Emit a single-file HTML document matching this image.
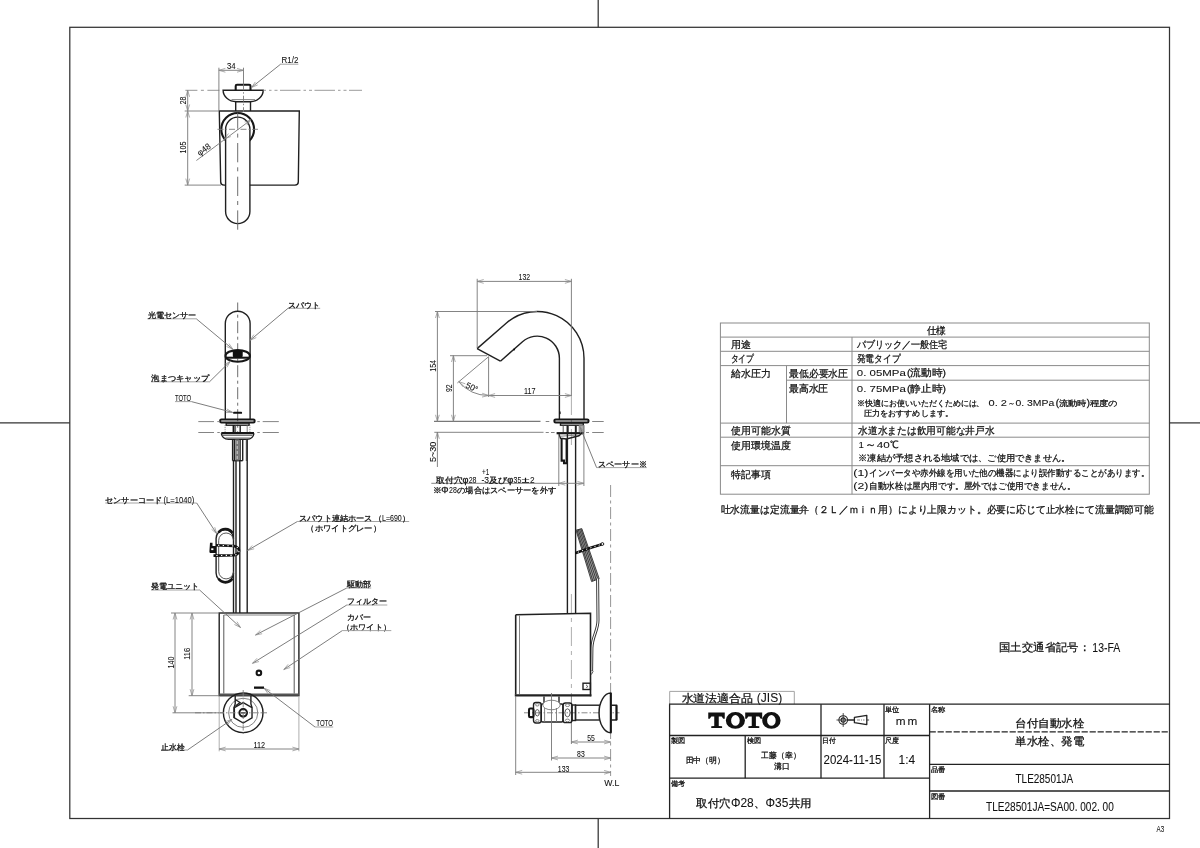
<!DOCTYPE html>
<html lang="ja">
<head>
<meta charset="utf-8">
<title>TLE28501JA</title>
<style>
html,body{margin:0;padding:0;background:#fff;}
body{width:1200px;height:848px;overflow:hidden;font-family:"Liberation Sans",sans-serif;}
svg{display:block;position:absolute;left:0;top:0;will-change:transform;}
text{font-family:"Liberation Sans",sans-serif;fill:#111;stroke:#111;stroke-width:0.28px;}
.tx{fill:#111;}
.la{fill:#111;stroke-width:0.08px;}
.tl{fill:#111;stroke-width:0.1px;}
.tb{fill:#111;stroke-width:0.26px;}
line,path,rect,circle,ellipse,polyline{fill:none;stroke-linecap:butt;stroke-linejoin:miter;}
.f{stroke:#333;stroke-width:1.25;}
.g{stroke:#8a8a8a;stroke-width:1;}
.g2{stroke:#999;stroke-width:0.9;}
.h{stroke:#222;stroke-width:1.3;}
.t3{stroke:#222;stroke-width:1.1;}
.o{stroke:#202020;stroke-width:1.4;}
.o2{stroke:#161616;stroke-width:2.05;}
.m{stroke:#444;stroke-width:0.9;}
.t{stroke:#767676;stroke-width:0.9;}
.t2{stroke:#333;stroke-width:0.9;}
.u{stroke:#9a9a9a;stroke-width:0.9;}
.e{stroke:#a6a6a6;stroke-width:0.9;}
.d{stroke:#6e6e6e;stroke-width:0.9;}
.a{stroke:#8a8a8a;stroke-width:0.7;}
.c{stroke:#8a8a8a;stroke-width:0.9;stroke-dasharray:12 3.5 3 3.5;}
.c2{stroke:#7a7a7a;stroke-width:0.9;stroke-dasharray:6 2 1.5 2;}
.c3{stroke:#7a7a7a;stroke-width:0.9;stroke-dasharray:15.5 3.3 2.5 3.3;}
.c4{stroke:#999;stroke-width:0.8;stroke-dasharray:19 5 4 5;}
.t2x{stroke:#7a7a7a;stroke-width:0.9;}
.c5{stroke:#7a7a7a;stroke-width:0.9;stroke-dasharray:3 3 9 3;}
.k{fill:#111;stroke:none;}
.w{fill:#fff;stroke:none;}
</style>
</head>
<body>
<svg width="1200" height="848" viewBox="0 0 1200 848">
<g id="frame">
<rect class="f" x="69.8" y="27.3" width="1099.7" height="791.2"/>
<line class="f" x1="598.2" y1="0" x2="598.2" y2="27.3"/>
<line class="f" x1="598.2" y1="818.5" x2="598.2" y2="848"/>
<line class="f" x1="0" y1="422.9" x2="69.8" y2="422.9"/>
<line class="f" x1="1169.5" y1="422.9" x2="1200" y2="422.9"/>
<text class="la" x="1156.6" y="831.7" font-size="8.9" textLength="7.6" lengthAdjust="spacingAndGlyphs">A3</text>
</g>
<g id="table">
<rect class="g" x="720.4" y="323" width="428.9" height="171.2"/>
<line class="g" x1="720.4" y1="337.1" x2="1149.3" y2="337.1"/>
<line class="g" x1="720.4" y1="351.3" x2="1149.3" y2="351.3"/>
<line class="g" x1="720.4" y1="365.6" x2="1149.3" y2="365.6"/>
<line class="g" x1="786.5" y1="380.2" x2="1149.3" y2="380.2"/>
<line class="g" x1="720.4" y1="423.1" x2="1149.3" y2="423.1"/>
<line class="g" x1="720.4" y1="437.2" x2="1149.3" y2="437.2"/>
<line class="g" x1="720.4" y1="465.7" x2="1149.3" y2="465.7"/>
<line class="g" x1="852" y1="337.1" x2="852" y2="494.2"/>
<line class="g" x1="786.5" y1="365.6" x2="786.5" y2="423.1"/>
<text class="tb" x="926.5" y="333.76" font-size="9.6" textLength="19.5" lengthAdjust="spacingAndGlyphs">仕様</text>
<text class="tb" x="730.5" y="347.96" font-size="9.6" textLength="20" lengthAdjust="spacingAndGlyphs">用途</text>
<text class="tb" x="856.8" y="347.96" font-size="9.6" textLength="90.5" lengthAdjust="spacingAndGlyphs">パブリック／一般住宅</text>
<text class="tb" x="730.5" y="362.06" font-size="9.6" textLength="23.5" lengthAdjust="spacingAndGlyphs">タイプ</text>
<text class="tb" x="856.8" y="362.26" font-size="9.6" textLength="43.5" lengthAdjust="spacingAndGlyphs">発電タイプ</text>
<text class="tb" x="730.5" y="376.76" font-size="9.6" textLength="40" lengthAdjust="spacingAndGlyphs">給水圧力</text>
<text class="tb" x="789" y="376.66" font-size="9.6" textLength="59" lengthAdjust="spacingAndGlyphs">最低必要水圧</text>
<text class="la" x="856.8" y="376.36" font-size="9.6" textLength="49" lengthAdjust="spacingAndGlyphs">0. 05MPa</text>
<text class="tb" x="907" y="376.36" font-size="9.6" textLength="38.8" lengthAdjust="spacingAndGlyphs">(流動時)</text>
<text class="tb" x="789" y="391.86" font-size="9.6" textLength="39.3" lengthAdjust="spacingAndGlyphs">最高水圧</text>
<text class="la" x="856.8" y="391.96" font-size="9.6" textLength="49" lengthAdjust="spacingAndGlyphs">0. 75MPa</text>
<text class="tb" x="907" y="391.96" font-size="9.6" textLength="38.8" lengthAdjust="spacingAndGlyphs">(静止時)</text>
<text class="tb" x="857.4" y="405.55" font-size="8.2" textLength="127" lengthAdjust="spacingAndGlyphs">※快適にお使いいただくためには、</text>
<text class="la" x="988.6" y="405.55" font-size="8.2" textLength="18.4" lengthAdjust="spacingAndGlyphs">0. 2</text>
<text class="tb" x="1008" y="405.55" font-size="8.2" textLength="7" lengthAdjust="spacingAndGlyphs">～</text>
<text class="la" x="1015.4" y="405.55" font-size="8.2" textLength="38.8" lengthAdjust="spacingAndGlyphs">0. 3MPa</text>
<text class="tb" x="1055.7" y="405.55" font-size="8.2" textLength="62" lengthAdjust="spacingAndGlyphs">(流動時)程度の</text>
<text class="tb" x="864.2" y="415.95" font-size="8.2" textLength="88.5" lengthAdjust="spacingAndGlyphs">圧力をおすすめします。</text>
<text class="tb" x="731.2" y="434.06" font-size="9.6" textLength="59.4" lengthAdjust="spacingAndGlyphs">使用可能水質</text>
<text class="tb" x="858.2" y="433.96" font-size="9.6" textLength="136.5" lengthAdjust="spacingAndGlyphs">水道水または飲用可能な井戸水</text>
<text class="tb" x="731.2" y="448.66" font-size="9.6" textLength="59.4" lengthAdjust="spacingAndGlyphs">使用環境温度</text>
<text class="la" x="858.4" y="448.36" font-size="9.6" textLength="5.4" lengthAdjust="spacingAndGlyphs">1</text>
<text class="tb" x="864.6" y="448.36" font-size="9.6" textLength="11.4" lengthAdjust="spacingAndGlyphs">～</text>
<text class="la" x="876.8" y="448.36" font-size="9.6" textLength="13" lengthAdjust="spacingAndGlyphs">40</text>
<text class="tb" x="890.2" y="448.36" font-size="9.6" textLength="8.4" lengthAdjust="spacingAndGlyphs">℃</text>
<text class="tb" x="858.2" y="460.77" font-size="8.8" textLength="212.2" lengthAdjust="spacingAndGlyphs">※凍結が予想される地域では、ご使用できません。</text>
<text class="tb" x="731.2" y="478.06" font-size="9.6" textLength="39.3" lengthAdjust="spacingAndGlyphs">特記事項</text>
<text class="la" x="853.3" y="476.4" font-size="8.6" textLength="15" lengthAdjust="spacingAndGlyphs">(1)</text>
<text class="tb" x="869.2" y="476.4" font-size="8.6" textLength="280" lengthAdjust="spacingAndGlyphs">インバータや赤外線を用いた他の機器により誤作動することがあります。</text>
<text class="la" x="853.3" y="489.1" font-size="8.6" textLength="15" lengthAdjust="spacingAndGlyphs">(2)</text>
<text class="tb" x="869.2" y="489.1" font-size="8.6" textLength="206.2" lengthAdjust="spacingAndGlyphs">自動水栓は屋内用です。屋外ではご使用できません。</text>
<text class="tb" x="720.6" y="512.8" font-size="10" textLength="433.4" lengthAdjust="spacingAndGlyphs">吐水流量は定流量弁（２Ｌ／ｍｉｎ用）により上限カット。必要に応じて止水栓にて流量調節可能</text>
<text class="tb" x="999" y="651.19" font-size="10.8" textLength="91" lengthAdjust="spacingAndGlyphs">国土交通省記号：</text>
<text class="la" x="1092.3" y="651.81" font-size="12.8" textLength="28" lengthAdjust="spacingAndGlyphs">13-FA</text>
</g>
<g id="title">
<path class="g2" d="M669.7 704 L669.7 691.4 L794.3 691.4 L794.3 704"/>
<text class="tx" x="681.5" y="701.58" font-size="10.5" textLength="71.8" lengthAdjust="spacingAndGlyphs">水道法適合品</text>
<text class="la" x="756.8" y="702.46" font-size="12.4" textLength="25.4" lengthAdjust="spacingAndGlyphs">(JIS)</text>
<line class="h" x1="669" y1="704.2" x2="1169.5" y2="704.2"/>
<line class="h" x1="669.6" y1="704.2" x2="669.6" y2="818.5"/>
<line class="h" x1="669.6" y1="735.5" x2="929.6" y2="735.5"/>
<line class="h" x1="669.6" y1="778.2" x2="929.6" y2="778.2"/>
<line class="h" x1="821" y1="704.2" x2="821" y2="778.2"/>
<line class="h" x1="884" y1="704.2" x2="884" y2="778.2"/>
<line class="h" x1="929.6" y1="704.2" x2="929.6" y2="818.5"/>
<line class="h" x1="745.2" y1="735.5" x2="745.2" y2="778.2"/>
<line class="h" x1="929.6" y1="731.8" x2="1169.5" y2="731.8" stroke-dasharray="6.2 1.8"/>
<line class="h" x1="929.6" y1="764.4" x2="1169.5" y2="764.4"/>
<line class="h" x1="929.6" y1="791" x2="1169.5" y2="791"/>
<g><title>TOTO</title><path class="k" fill-rule="evenodd" d="M708.25 712.6 H724.75 V718.8 H723.25 L721.65 716.4 H718.75 V725.9 L722.1 726.2 V728.1 H711.25 V726.2 L714.25 725.9 V716.4 H711.35 L709.75 718.8 H708.25 Z M725.85 720.4 a9.55 8.45 0 1 0 19.1 0 a9.55 8.45 0 1 0 -19.1 0 Z M731.1 720.4 a4.3 5.3 0 1 0 8.6 0 a4.3 5.3 0 1 0 -8.6 0 Z M745.2 712.6 H762.2 V718.8 H760.7 L759.1 716.4 H755.9 V725.9 L759.25 726.2 V728.1 H748.4 V726.2 L751.75 725.9 V716.4 H748.3 L746.7 718.8 H745.2 Z M762.2 720.4 a9.2 8.45 0 1 0 18.4 0 a9.2 8.45 0 1 0 -18.4 0 Z M767.1 720.4 a4.3 5.3 0 1 0 8.6 0 a4.3 5.3 0 1 0 -8.6 0 Z"/></g>
<circle class="t3" cx="843.2" cy="720" r="4.3"/>
<circle class="t3" cx="843.2" cy="720" r="2.1"/>
<line class="t2" x1="836.5" y1="720" x2="869.1" y2="720"/>
<line class="t2" x1="843.2" y1="713.1" x2="843.2" y2="726.9"/>
<line class="t3" x1="847.5" y1="720" x2="854.4" y2="720"/>
<path class="t3" d="M854.4 717.3 L866.8 715.4 L866.8 724.6 L854.4 722.7 Z" style="stroke-width:1.3;stroke-linejoin:round;fill:#fff"/>
<line class="t" x1="857" y1="720" x2="864.5" y2="720" stroke-dasharray="3 1 1 1"/>
<text class="tx" x="885" y="712.19" font-size="7.2" textLength="14.4" lengthAdjust="spacingAndGlyphs">単位</text>
<text class="la" x="895.8" y="724.57" font-size="10.2" textLength="9.8" lengthAdjust="spacingAndGlyphs">m</text>
<text class="la" x="907.6" y="724.57" font-size="10.2" textLength="9.8" lengthAdjust="spacingAndGlyphs">m</text>
<text class="tx" x="671.3" y="743.39" font-size="7.2" textLength="14.3" lengthAdjust="spacingAndGlyphs">製図</text>
<text class="tx" x="746.8" y="743.39" font-size="7.2" textLength="14.3" lengthAdjust="spacingAndGlyphs">検図</text>
<text class="tx" x="822.3" y="743.39" font-size="7.2" textLength="13.6" lengthAdjust="spacingAndGlyphs">日付</text>
<text class="tx" x="885.3" y="743.39" font-size="7.2" textLength="14" lengthAdjust="spacingAndGlyphs">尺度</text>
<text class="tx" x="685.7" y="762.74" font-size="7.9" textLength="39" lengthAdjust="spacingAndGlyphs">田中（明）</text>
<text class="tx" x="761.4" y="757.74" font-size="7.9" textLength="39" lengthAdjust="spacingAndGlyphs">工藤（幸）</text>
<text class="tx" x="773.8" y="768.84" font-size="7.9" textLength="15.6" lengthAdjust="spacingAndGlyphs">溝口</text>
<text class="la" x="823.6" y="763.96" font-size="12.4" textLength="57.8" lengthAdjust="spacingAndGlyphs">2024-11-15</text>
<text class="la" x="898.6" y="763.96" font-size="12.4" textLength="16.6" lengthAdjust="spacingAndGlyphs">1:4</text>
<text class="tx" x="671.2" y="786.39" font-size="7.2" textLength="14.1" lengthAdjust="spacingAndGlyphs">備考</text>
<text class="tx" x="696.2" y="806.89" font-size="10.8" textLength="34.4" lengthAdjust="spacingAndGlyphs">取付穴</text>
<text class="la" x="730.9" y="807.46" font-size="12.4" textLength="22.8" lengthAdjust="spacingAndGlyphs">Φ28</text>
<text class="tx" x="754" y="806.89" font-size="10.8" textLength="11.4" lengthAdjust="spacingAndGlyphs">、</text>
<text class="la" x="765.6" y="807.46" font-size="12.4" textLength="22.8" lengthAdjust="spacingAndGlyphs">Φ35</text>
<text class="tx" x="788.6" y="806.89" font-size="10.8" textLength="22.9" lengthAdjust="spacingAndGlyphs">共用</text>
<text class="tx" x="930.7" y="712.09" font-size="7.2" textLength="14.6" lengthAdjust="spacingAndGlyphs">名称</text>
<text class="tx" x="930.7" y="772.29" font-size="7.2" textLength="14.6" lengthAdjust="spacingAndGlyphs">品番</text>
<text class="tx" x="930.7" y="799.19" font-size="7.2" textLength="14.6" lengthAdjust="spacingAndGlyphs">図番</text>
<text class="tx" x="1015.4" y="727.32" font-size="10.6" textLength="69" lengthAdjust="spacingAndGlyphs">台付自動水栓</text>
<text class="tx" x="1015.4" y="745.32" font-size="10.6" textLength="69" lengthAdjust="spacingAndGlyphs">単水栓、発電</text>
<text class="la" x="1015.5" y="783.36" font-size="12.4" textLength="57.6" lengthAdjust="spacingAndGlyphs">TLE28501JA</text>
<text class="la" x="986" y="810.76" font-size="12.4" textLength="127.8" lengthAdjust="spacingAndGlyphs">TLE28501JA=SA00. 002. 00</text>
</g>
<g id="top">
<path class="o" d="M219.3 111 L220.7 182 Q220.8 185.1 224 185.1 L295 185.1 Q298.2 185.1 298.3 182 L299.3 111 Z"/>
<circle class="o2" cx="237.7" cy="129.3" r="16.4"/>
<path class="o" d="M225.6 129.3 A12.15 12.15 0 0 1 249.9 129.3 L249.9 211.5 A12.15 12.15 0 0 1 225.6 211.5 Z" style="fill:#fff"/>
<line class="o" x1="235.7" y1="101.7" x2="235.7" y2="111"/>
<line class="o" x1="250.5" y1="101.7" x2="250.5" y2="111"/>
<path class="o" d="M223.1 90.3 L263.2 90.3 C263.2 96.5 257.5 101.7 250 101.7 L236.3 101.7 C228.8 101.7 223.1 96.5 223.1 90.3 Z"/>
<line class="t" x1="231.5" y1="99.6" x2="255" y2="99.6"/>
<path class="o2" d="M235.7 90.3 L235.7 86 Q235.7 84.8 237 84.8 L249.2 84.8 Q250.5 84.8 250.5 86 L250.5 90.3"/>
<line class="c" x1="185.4" y1="90.3" x2="223" y2="90.3"/>
<line class="" x1="263.5" y1="90.3" x2="362" y2="90.3" style="stroke:#909090;stroke-width:0.9;stroke-dasharray:20.5 3 2.5 3 3 2.5;stroke-dashoffset:18"/>
<line class="c2" x1="243.5" y1="84.2" x2="243.5" y2="112"/>
<line class="" x1="237.7" y1="112.5" x2="237.7" y2="232" style="stroke:#666;stroke-width:0.95;stroke-dasharray:19.3 5 4 5.4;stroke-dashoffset:3.2"/>
<line class="c2" x1="217.5" y1="129.3" x2="258.7" y2="129.3"/>
<line class="t" x1="218.9" y1="67.7" x2="218.9" y2="110.5"/>
<line class="t" x1="243.5" y1="67.7" x2="243.5" y2="84.2"/>
<line class="t" x1="218.9" y1="70.3" x2="243.5" y2="70.3"/>
<path class="a" d="M225.4 68.4 L218.9 70.3 L225.4 72.2"/>
<path class="a" d="M237 72.2 L243.5 70.3 L237 68.4"/>
<text class="la" x="226.9" y="69.1" font-size="8.6" textLength="8.6" lengthAdjust="spacingAndGlyphs">34</text>
<path class="u" d="M298.4 64.2 L280.6 64.2"/>
<path class="d" d="M280.6 64.2 L251.4 87.5"/>
<path class="a" d="M255.3 81.96 L251.4 87.5 L257.67 84.93"/>
<text class="la" x="281.6" y="63" font-size="8.6" textLength="16.8" lengthAdjust="spacingAndGlyphs">R1/2</text>
<line class="t" x1="184.7" y1="111" x2="219" y2="111"/>
<line class="t" x1="184.7" y1="185.1" x2="221" y2="185.1"/>
<line class="t" x1="187.7" y1="90.3" x2="187.7" y2="111"/>
<path class="a" d="M189.6 96.8 L187.7 90.3 L185.8 96.8"/>
<path class="a" d="M185.8 104.5 L187.7 111 L189.6 104.5"/>
<line class="t" x1="187.7" y1="111" x2="187.7" y2="185.1"/>
<path class="a" d="M189.6 117.5 L187.7 111 L185.8 117.5"/>
<path class="a" d="M185.8 178.6 L187.7 185.1 L189.6 178.6"/>
<text class="la" x="179.4" y="103.5" font-size="8.6" textLength="7.8" lengthAdjust="spacingAndGlyphs" transform="rotate(-90 183.3 100.4)">28</text>
<text class="la" x="177.3" y="150.6" font-size="8.6" textLength="11.8" lengthAdjust="spacingAndGlyphs" transform="rotate(-90 183.2 147.5)">105</text>
<line class="t" x1="196.4" y1="160.5" x2="251.05" y2="119.78"/>
<path class="a" d="M228.54 133.5 L224.35 138.82 L230.74 136.6"/>
<path class="a" d="M246.86 125.1 L251.05 119.78 L244.66 122"/>
<text class="la" x="196.55" y="152.5" font-size="8.6" textLength="14.5" lengthAdjust="spacingAndGlyphs" transform="rotate(-36 203.8 149.4)">φ48</text>
</g>
<g id="front">
<line class="" x1="237.7" y1="302.5" x2="237.7" y2="432" style="stroke:#666;stroke-width:0.95;stroke-dasharray:12 3.5 3 3.5;stroke-dashoffset:3.3"/>
<path class="o" d="M225.3 419.4 L225.3 323.6 A12.4 12.4 0 0 1 250.1 323.6 L250.1 419.4"/>
<ellipse class="o2" cx="237.7" cy="355.9" rx="12.2" ry="5.8"/>
<path class="o2" d="M226.5 357.7 L248.9 357.7"/>
<rect class="k" x="232.8" y="350.2" width="9.9" height="7.6" rx="2"/>
<rect class="k" x="233.1" y="411.8" width="9" height="2" rx="0.9"/>
<rect class="o2" x="220.2" y="419.4" width="34.4" height="3.1" rx="1.2"/>
<rect class="o" x="226.2" y="423.1" width="22.9" height="2.1"/>
<line class="t" x1="225.1" y1="425.2" x2="225.1" y2="432.4" stroke-dasharray="1 1"/>
<line class="t" x1="249.9" y1="425.2" x2="249.9" y2="432.4" stroke-dasharray="1 1"/>
<line class="o2" x1="233.6" y1="425.2" x2="233.6" y2="433"/>
<line class="o" x1="240.2" y1="425.2" x2="240.2" y2="433"/>
<line class="m" x1="235.6" y1="425.2" x2="235.6" y2="433"/>
<line class="t" x1="247.2" y1="425.2" x2="247.2" y2="433"/>
<path class="o2" d="M221.3 433.1 L254 433.1" style="stroke-width:2.2"/>
<path class="o" d="M221.3 433.3 C222 437 225 439.2 228.5 439.2 L247 439.2 C250.5 439.2 253.3 437 254 433.3"/>
<line class="m" x1="223" y1="435.3" x2="252.3" y2="435.3"/>
<line class="t" x1="225.5" y1="437.9" x2="250" y2="437.9"/>
<line class="o" x1="232.6" y1="439.2" x2="232.6" y2="460.7"/>
<line class="o" x1="242.7" y1="439.2" x2="242.7" y2="460.7"/>
<line class="o" x1="232.6" y1="460.7" x2="242.7" y2="460.7"/>
<line class="o" x1="234.3" y1="439.2" x2="234.3" y2="460.7"/>
<line class="o" x1="240.1" y1="439.2" x2="240.1" y2="460.7"/>
<rect style="fill:#777;stroke:none" x="235.2" y="439.5" width="4" height="21"/>
<line class="" x1="237.2" y1="441" x2="237.2" y2="460" style="stroke:#ddd;stroke-width:0.9;stroke-dasharray:3 2"/>
<line class="m" x1="246.3" y1="439.2" x2="246.3" y2="461"/>
<line class="o" x1="247.2" y1="439.2" x2="247.2" y2="613"/>
<line class="o" x1="239.8" y1="460.7" x2="239.8" y2="613"/>
<line class="o" x1="233.5" y1="460.7" x2="233.5" y2="613"/>
<line class="o" x1="236" y1="460.7" x2="236" y2="613"/>
<path class="o" d="M233.5 538.4 A8.7 8.7 0 0 0 216.1 538.4 L216.1 573 A8.7 8.7 0 0 0 233.5 573"/>
<path class="m" d="M233.5 540.4 A7.4 7.4 0 0 0 218.7 540.4 L218.7 571.5 A7.4 7.4 0 0 0 233.5 571.5"/>
<path class="o2" d="M232.5 533 A8.5 8.5 0 0 0 218.5 532.5" style="stroke-width:2.6"/>
<path class="o2" d="M232.5 578.6 A8.5 8.5 0 0 1 218.5 578.8" style="stroke-width:2.6"/>
<path class="" d="M216 545.2 L234 546 Q239.3 547.5 239 551 Q238.5 554.5 234 555.3 L213.5 555.6" style="stroke:#111;stroke-width:2.6"/>
<path class="" d="M216 545.2 L234 546 Q239.3 547.5 239 551 Q238.5 554.5 234 555.3 L213.5 555.6" style="stroke:#fff;stroke-width:1.1;stroke-dasharray:1.3 3.4;stroke-dashoffset:-2"/>
<path class="k" d="M210 542.8 L212.5 542.8 L212.5 546 L216 546 L216 553 L210.5 553 Q209.4 553 209.4 551.5 Z"/>
<rect class="w" x="211.2" y="548.3" width="2.2" height="1.8"/>
<rect class="o" x="219.2" y="613" width="79.7" height="82.7"/>
<line class="m" x1="223.8" y1="615" x2="223.8" y2="693.5"/>
<line class="m" x1="294.2" y1="615" x2="294.2" y2="693.5"/>
<line class="t" x1="223.8" y1="615" x2="294.2" y2="615"/>
<path class="" d="M219.2 694.6 L298.9 694.6" style="stroke:#555;stroke-width:2.4"/>
<circle class="o2" cx="258.9" cy="672.9" r="2.3"/>
<rect class="k" x="254" y="686.5" width="10" height="2.3"/>
<circle class="o" cx="243.2" cy="712.8" r="19.8"/>
<circle class="t" cx="243.2" cy="712.8" r="14.6"/>
<path class="o" d="M243.2 702.6 L252.03 707.7 L252.03 717.9 L243.2 723 L234.37 717.9 L234.37 707.7 Z"/>
<circle class="o2" cx="243.2" cy="712.8" r="3.8"/>
<line class="o" x1="240.8" y1="712.8" x2="245.6" y2="712.8"/>
<path class="o" d="M235.2 695.7 L235.2 704 L234 707.5 L234 718"/>
<path class="o" d="M250.9 695.7 L250.9 704 L252 707.5"/>
<path class="o" d="M235.2 699.5 L240 702.5 L235.5 706"/>
<line class="c2" x1="195" y1="712.8" x2="267" y2="712.8"/>
<line class="c2" x1="243.2" y1="690" x2="243.2" y2="736"/>
<line class="t" x1="171" y1="613" x2="219.2" y2="613"/>
<line class="t" x1="188.7" y1="695.7" x2="219.2" y2="695.7"/>
<line class="t" x1="172.5" y1="712.8" x2="224" y2="712.8"/>
<line class="t" x1="175" y1="613" x2="175" y2="712.8"/>
<path class="a" d="M176.9 619.5 L175 613 L173.1 619.5"/>
<path class="a" d="M173.1 706.3 L175 712.8 L176.9 706.3"/>
<line class="t" x1="192" y1="613" x2="192" y2="695.7"/>
<path class="a" d="M193.9 619.5 L192 613 L190.1 619.5"/>
<path class="a" d="M190.1 689.2 L192 695.7 L193.9 689.2"/>
<text class="la" x="165" y="665.6" font-size="8.6" textLength="12" lengthAdjust="spacingAndGlyphs" transform="rotate(-90 171 662.5)">140</text>
<text class="la" x="181.2" y="656.9" font-size="8.6" textLength="12" lengthAdjust="spacingAndGlyphs" transform="rotate(-90 187.2 653.8)">116</text>
<line class="e" x1="219.2" y1="696.5" x2="219.2" y2="751.3"/>
<line class="e" x1="298.9" y1="696.5" x2="298.9" y2="751.3"/>
<line class="t" x1="219.2" y1="749" x2="298.9" y2="749"/>
<path class="a" d="M225.7 747.1 L219.2 749 L225.7 750.9"/>
<path class="a" d="M292.4 750.9 L298.9 749 L292.4 747.1"/>
<text class="la" x="253.4" y="748.4" font-size="8.6" textLength="11.6" lengthAdjust="spacingAndGlyphs">112</text>
<path class="u" d="M147.3 318.8 L196.3 318.8"/>
<path class="d" d="M196.3 318.8 L232.8 349.2"/>
<path class="a" d="M226.59 346.5 L232.8 349.2 L229.02 343.58"/>
<text class="tx" x="147.5" y="318.29" font-size="8.3" textLength="48.6" lengthAdjust="spacingAndGlyphs">光電センサー</text>
<path class="u" d="M320.2 308.3 L288 308.3"/>
<path class="d" d="M288 308.3 L250.1 340.3"/>
<path class="a" d="M253.84 334.65 L250.1 340.3 L256.29 337.56"/>
<text class="tx" x="288.2" y="307.79" font-size="8.3" textLength="32" lengthAdjust="spacingAndGlyphs">スパウト</text>
<path class="u" d="M151 381.8 L209.5 381.8"/>
<path class="d" d="M209.5 381.8 L230.2 361.4"/>
<path class="a" d="M226.9 367.32 L230.2 361.4 L224.24 364.61"/>
<text class="tx" x="151.3" y="381.29" font-size="8.3" textLength="58" lengthAdjust="spacingAndGlyphs">泡まつキャップ</text>
<path class="u" d="M175 401.6 L191.4 401.6"/>
<path class="d" d="M191.4 401.6 L232.6 412.4"/>
<path class="a" d="M225.83 412.59 L232.6 412.4 L226.79 408.91"/>
<text class="la" x="175" y="400.77" font-size="8.8" textLength="16.2" lengthAdjust="spacingAndGlyphs">TOTO</text>
<path class="u" d="M105.3 503 L196.7 503"/>
<path class="d" d="M196.7 503 L216.7 533.7"/>
<path class="a" d="M211.56 529.29 L216.7 533.7 L214.74 527.22"/>
<text class="tx" x="105.2" y="502.59" font-size="8.3" textLength="57" lengthAdjust="spacingAndGlyphs">センサーコード</text>
<text class="la" x="163.5" y="502.57" font-size="8.8" textLength="30.7" lengthAdjust="spacingAndGlyphs">(L=1040)</text>
<path class="u" d="M409.2 521.5 L297.4 521.5"/>
<path class="d" d="M297.4 521.5 L247.6 550.4"/>
<path class="a" d="M252.27 545.49 L247.6 550.4 L254.18 548.78"/>
<text class="tx" x="299" y="520.99" font-size="8.3" textLength="73.6" lengthAdjust="spacingAndGlyphs">スパウト連結ホース</text>
<text class="tx" x="373.6" y="520.99" font-size="8.3" textLength="8.1" lengthAdjust="spacingAndGlyphs">（</text>
<text class="la" x="382" y="520.77" font-size="8.8" textLength="19.8" lengthAdjust="spacingAndGlyphs">L=690</text>
<text class="tx" x="401.6" y="520.99" font-size="8.3" textLength="8.1" lengthAdjust="spacingAndGlyphs">）</text>
<text class="tx" x="306.4" y="531.29" font-size="8.3" textLength="74.6" lengthAdjust="spacingAndGlyphs">（ホワイトグレー）</text>
<path class="u" d="M151 590 L199.6 590"/>
<path class="d" d="M199.6 590 L240.5 627.5"/>
<path class="a" d="M234.42 624.51 L240.5 627.5 L236.99 621.71"/>
<text class="tx" x="151.3" y="589.39" font-size="8.3" textLength="48.2" lengthAdjust="spacingAndGlyphs">発電ユニット</text>
<path class="u" d="M371.2 588 L346.8 588"/>
<path class="d" d="M346.8 588 L255.5 635"/>
<path class="a" d="M260.41 630.34 L255.5 635 L262.15 633.71"/>
<text class="tx" x="347" y="587.49" font-size="8.3" textLength="24" lengthAdjust="spacingAndGlyphs">駆動部</text>
<path class="u" d="M387.3 605 L346.8 605"/>
<path class="d" d="M346.8 605 L252.5 663.3"/>
<path class="a" d="M257.03 658.27 L252.5 663.3 L259.03 661.5"/>
<text class="tx" x="347" y="604.49" font-size="8.3" textLength="40" lengthAdjust="spacingAndGlyphs">フィルター</text>
<text class="tx" x="347" y="620.49" font-size="8.3" textLength="24" lengthAdjust="spacingAndGlyphs">カバー</text>
<text class="tx" x="342" y="629.79" font-size="8.3" textLength="48.8" lengthAdjust="spacingAndGlyphs">（ホワイト）</text>
<path class="u" d="M391.3 630.6 L342.3 630.6"/>
<path class="d" d="M342.3 630.6 L283.8 669.5"/>
<path class="a" d="M288.16 664.32 L283.8 669.5 L290.26 667.48"/>
<path class="u" d="M333.2 727 L315 727"/>
<path class="d" d="M315 727 L264 688.2"/>
<path class="a" d="M270.32 690.62 L264 688.2 L268.02 693.65"/>
<text class="la" x="316.3" y="725.77" font-size="8.8" textLength="16.6" lengthAdjust="spacingAndGlyphs">TOTO</text>
<path class="u" d="M161 750 L187.5 750"/>
<path class="d" d="M187.5 750 L231.9 719.4"/>
<path class="a" d="M227.63 724.65 L231.9 719.4 L225.47 721.52"/>
<text class="tx" x="161.3" y="750.09" font-size="8.3" textLength="23.6" lengthAdjust="spacingAndGlyphs">止水栓</text>
<line class="t" x1="198.3" y1="421.6" x2="214" y2="421.6"/>
<line class="t" x1="217.3" y1="421.6" x2="219.8" y2="421.6"/>
<line class="t" x1="257.3" y1="421.6" x2="259.8" y2="421.6"/>
<line class="t" x1="262.7" y1="421.6" x2="278.8" y2="421.6"/>
<line class="t" x1="198.3" y1="432.5" x2="214" y2="432.5"/>
<line class="t" x1="217.3" y1="432.5" x2="219.8" y2="432.5"/>
<line class="t" x1="257.3" y1="432.5" x2="259.8" y2="432.5"/>
<line class="t" x1="262.7" y1="432.5" x2="278.8" y2="432.5"/>
</g>
<g id="side">
<line class="c4" x1="571.4" y1="396" x2="571.4" y2="445"/>
<line class="c4" x1="571.4" y1="594" x2="571.4" y2="696"/>
<line class="t" x1="571.4" y1="696" x2="571.4" y2="744"/>
<line class="c" x1="610.6" y1="485" x2="610.6" y2="776"/>
<path class="o" d="M477.1 348.6 L506.45 323.02 A46.8 46.8 0 0 1 584 358.3 L584 419.4"/>
<path class="o" d="M500.4 361.2 L522.5 341.67 A22.2 22.2 0 0 1 559.4 358.3 L559.4 419.4"/>
<line class="o" x1="477.1" y1="348.6" x2="500.4" y2="361.2"/>
<circle class="k" cx="514.1" cy="349.4" r="1"/>
<rect class="k" x="559.4" y="411.5" width="1.2" height="2.6"/>
<rect class="o2" x="554.4" y="419.4" width="34.1" height="3.1" rx="1.2"/>
<rect class="o" x="560.5" y="423.1" width="22.8" height="2.1"/>
<line class="m" x1="563.2" y1="425.2" x2="563.2" y2="432.6"/>
<line class="m" x1="567.2" y1="425.2" x2="567.2" y2="432.6"/>
<line class="m" x1="568.4" y1="425.2" x2="568.4" y2="432.6"/>
<line class="m" x1="575.4" y1="425.2" x2="575.4" y2="432.6"/>
<line class="m" x1="576.4" y1="425.2" x2="576.4" y2="432.6"/>
<path class="" d="M579 425.4 L584 425.4 L584 432.4 L579 432.4 Z" style="fill:#aaa;stroke:#888;stroke-width:0.6"/>
<path class="o2" d="M556.6 433.2 L583.8 433.2" style="stroke-width:2.2"/>
<path class="o" d="M559 434 L560.5 438.3 L566.5 439 L578.9 435.8 L581.1 434"/>
<line class="t" x1="561" y1="436.2" x2="575" y2="435.2"/>
<path class="o2" d="M561.6 439 L561.6 460.6 L564 460.6 L564 463.2 L567 463.2"/>
<line class="o2" x1="566.6" y1="439" x2="566.6" y2="463.2"/>
<line class="o" x1="567.4" y1="425.2" x2="567.4" y2="613.2"/>
<line class="o" x1="575.6" y1="425.2" x2="575.6" y2="613.2"/>
<line class="t" x1="558.8" y1="434" x2="558.8" y2="486"/>
<line class="t" x1="583.9" y1="425" x2="583.9" y2="486"/>
<line class="t" x1="431.3" y1="483.3" x2="583.9" y2="483.3"/>
<path class="a" d="M565.3 481.4 L558.8 483.3 L565.3 485.2"/>
<path class="a" d="M577.4 485.2 L583.9 483.3 L577.4 481.4"/>
<path style="fill:#a8a8a8;stroke:#333;stroke-width:0.9" d="M576 530.2 L581.8 528.6 L599.2 578.7 L591.6 581.6 Z"/>
<line class="" x1="576.99" y1="529.93" x2="592.89" y2="581.11" style="stroke:#222;stroke-width:0.8"/>
<line class="" x1="578.26" y1="529.58" x2="594.56" y2="580.47" style="stroke:#222;stroke-width:0.8"/>
<line class="" x1="579.54" y1="529.22" x2="596.24" y2="579.83" style="stroke:#222;stroke-width:0.8"/>
<line class="" x1="580.81" y1="528.87" x2="597.91" y2="579.19" style="stroke:#222;stroke-width:0.8"/>
<path class="" d="M576.4 552.8 L590 548 L602 544.2" style="stroke:#111;stroke-width:2.6;stroke-linecap:round"/>
<path class="" d="M576.4 552.8 L590 548 L602 544.2" style="stroke:#fff;stroke-width:1;stroke-dasharray:1.2 3.2;stroke-dashoffset:-1.5"/>
<circle style="fill:#fff;stroke:#111;stroke-width:0.9" cx="602.4" cy="544" r="1.4"/>
<path class="" d="M597.6 578.5 L598 620 C598 631 592.3 636 591.9 648 L591.6 671" style="stroke:#333;stroke-width:3"/>
<path class="" d="M597.6 578.5 L598 620 C598 631 592.3 636 591.9 648 L591.6 671" style="stroke:#fff;stroke-width:1.1"/>
<path class="m" d="M591.6 670 L593 671.5 L591.4 674.5"/>
<path class="o" d="M515.7 614.8 L590.5 613.2 L590.5 696.3 M515.7 614.8 L515.7 694.6" style="stroke-width:1.6"/>
<path class="" d="M514.8 695.3 L591.4 695.3" style="stroke:#222;stroke-width:2.2"/>
<line class="t" x1="519.5" y1="615.5" x2="519.5" y2="694"/>
<rect class="o" x="583" y="683.2" width="7.4" height="6.3"/>
<path class="m" d="M586 684.8 Q589 686 586.5 688"/>
<line class="c2" x1="524" y1="712.8" x2="619.5" y2="712.8"/>
<line class="o" x1="544" y1="696.4" x2="544" y2="703"/>
<line class="o" x1="559" y1="696.4" x2="559" y2="704"/>
<rect class="o" x="541.2" y="704" width="21.8" height="18" rx="1.5"/>
<ellipse class="t" style="fill:#fff" cx="551.5" cy="705" rx="8.7" ry="4.8"/>
<line class="t" x1="544.6" y1="708" x2="544.6" y2="722"/>
<line class="t" x1="556.5" y1="708" x2="556.5" y2="722"/>
<rect class="o" x="533.5" y="702.5" width="7.7" height="20.5" rx="2.4"/>
<ellipse class="m" cx="537.3" cy="712.8" rx="2" ry="3.2"/>
<ellipse class="t" cx="537.3" cy="704.8" rx="1.8" ry="1.2"/>
<ellipse class="t" cx="537.3" cy="720.8" rx="1.8" ry="1.2"/>
<rect class="o2" x="529" y="708.5" width="4.5" height="8.6" rx="1.2"/>
<rect class="o" x="563" y="703" width="9" height="19.6" rx="2.4"/>
<ellipse class="m" cx="567.5" cy="712.8" rx="2.6" ry="4"/>
<ellipse class="t" cx="567.5" cy="705.2" rx="2.2" ry="1.3"/>
<ellipse class="t" cx="567.5" cy="720.4" rx="2.2" ry="1.3"/>
<rect class="o" x="572" y="705" width="3.5" height="15.5"/>
<rect class="o" x="575.5" y="705.2" width="24" height="14.8"/>
<path class="o" d="M610.8 693 A11.7 19.9 0 0 0 610.8 732.8 Z" style="fill:#fff"/>
<line class="o2" x1="610.8" y1="693" x2="610.8" y2="732.8"/>
<path class="o" d="M610.8 705.2 L616.5 705.2 L616.5 720 L610.8 720"/>
<line class="o2" x1="616.5" y1="705.2" x2="616.5" y2="720"/>
<line class="t" x1="477.2" y1="278.8" x2="477.2" y2="348"/>
<line class="t" x1="571.4" y1="278.8" x2="571.4" y2="396"/>
<line class="t" x1="477.2" y1="281.4" x2="571.4" y2="281.4"/>
<path class="a" d="M483.7 279.5 L477.2 281.4 L483.7 283.3"/>
<path class="a" d="M564.9 283.3 L571.4 281.4 L564.9 279.5"/>
<text class="la" x="518.55" y="280.2" font-size="8.6" textLength="11.5" lengthAdjust="spacingAndGlyphs">132</text>
<line class="t" x1="435" y1="311.5" x2="537" y2="311.5"/>
<line class="m" x1="434" y1="421.3" x2="540.5" y2="421.3"/>
<line class="t" x1="437.4" y1="311.5" x2="437.4" y2="421.3"/>
<path class="a" d="M439.3 318 L437.4 311.5 L435.5 318"/>
<path class="a" d="M435.5 414.8 L437.4 421.3 L439.3 414.8"/>
<text class="la" x="427" y="369" font-size="8.6" textLength="11.8" lengthAdjust="spacingAndGlyphs" transform="rotate(-90 432.9 365.9)">154</text>
<line class="t" x1="450" y1="355.7" x2="487.2" y2="355.7"/>
<line class="t" x1="453.4" y1="355.5" x2="453.4" y2="421.3"/>
<path class="a" d="M455.3 362 L453.4 355.5 L451.5 362"/>
<path class="a" d="M451.5 414.8 L453.4 421.3 L455.3 414.8"/>
<text class="la" x="444.75" y="391.3" font-size="8.6" textLength="7.7" lengthAdjust="spacingAndGlyphs" transform="rotate(-90 448.6 388.2)">92</text>
<line class="t" x1="488.6" y1="356.7" x2="488.6" y2="397"/>
<line class="t" x1="488.6" y1="395.5" x2="571.4" y2="395.5"/>
<path class="a" d="M495.1 393.6 L488.6 395.5 L495.1 397.4"/>
<path class="a" d="M564.9 397.4 L571.4 395.5 L564.9 393.6"/>
<text class="la" x="524.05" y="394.4" font-size="8.6" textLength="11.5" lengthAdjust="spacingAndGlyphs">117</text>
<line class="t" x1="488.6" y1="356.7" x2="457.38" y2="382.94"/>
<path class="t" d="M458.88 381.64 A38.8 38.8 0 0 0 488.6 395.5"/>
<path class="a" d="M465.29 383.81 L458.88 381.64 L463.11 386.92"/>
<path class="a" d="M482.01 397.06 L488.6 395.5 L482.21 393.26"/>
<text class="la" x="465.75" y="390.3" font-size="8.6" textLength="12.5" lengthAdjust="spacingAndGlyphs" transform="rotate(25 472 387.2)">50°</text>
<line class="t" x1="437.4" y1="432.3" x2="437.4" y2="467"/>
<path class="a" d="M439.3 438.8 L437.4 432.3 L435.5 438.8"/>
<text class="la" x="422.8" y="455" font-size="8.6" textLength="20.2" lengthAdjust="spacingAndGlyphs" transform="rotate(-90 432.9 451.9)">5~30</text>
<line class="t" x1="592.2" y1="421.5" x2="603.7" y2="421.5"/>
<line class="t" x1="545.7" y1="421.5" x2="549.3" y2="421.5"/>
<line class="t" x1="434.3" y1="432.3" x2="543.5" y2="432.3"/>
<line class="t" x1="545.7" y1="432.5" x2="548.8" y2="432.5"/>
<line class="t" x1="551" y1="432.5" x2="554.6" y2="432.5"/>
<line class="t" x1="586" y1="432.5" x2="589" y2="432.5"/>
<line class="t" x1="592.2" y1="432.5" x2="603.7" y2="432.5"/>
<text class="la" x="482" y="474.67" font-size="8.8" textLength="7.2" lengthAdjust="spacingAndGlyphs">+1</text>
<text class="tx" x="436" y="482.59" font-size="8.3" textLength="32.4" lengthAdjust="spacingAndGlyphs">取付穴φ</text>
<text class="la" x="468.7" y="482.77" font-size="8.8" textLength="7.8" lengthAdjust="spacingAndGlyphs">28</text>
<text class="la" x="481.4" y="482.77" font-size="8.8" textLength="7.6" lengthAdjust="spacingAndGlyphs">-3</text>
<text class="tx" x="489.2" y="482.59" font-size="8.3" textLength="24" lengthAdjust="spacingAndGlyphs">及びφ</text>
<text class="la" x="513.5" y="482.77" font-size="8.8" textLength="7.8" lengthAdjust="spacingAndGlyphs">35</text>
<text class="la" x="521.6" y="482.59" font-size="8.3" textLength="8" lengthAdjust="spacingAndGlyphs">±</text>
<text class="la" x="530" y="482.77" font-size="8.8" textLength="4.6" lengthAdjust="spacingAndGlyphs">2</text>
<text class="tx" x="432.6" y="493.29" font-size="8.3" textLength="16" lengthAdjust="spacingAndGlyphs">※Φ</text>
<text class="la" x="449" y="493.47" font-size="8.8" textLength="7.8" lengthAdjust="spacingAndGlyphs">28</text>
<text class="tx" x="457" y="493.29" font-size="8.3" textLength="99.3" lengthAdjust="spacingAndGlyphs">の場合はスペーサーを外す</text>
<path class="u" d="M646.8 467.6 L596.6 467.6"/>
<path class="d" d="M596.6 467.6 L579.8 426.5"/>
<path class="a" d="M584.02 431.8 L579.8 426.5 L580.5 433.24"/>
<text class="tx" x="598.2" y="466.79" font-size="8.3" textLength="48.6" lengthAdjust="spacingAndGlyphs">スペーサー※</text>
<line class="t" x1="515.7" y1="696" x2="515.7" y2="775"/>
<line class="t" x1="551.5" y1="693" x2="551.5" y2="760.5"/>
<line class="t" x1="571.4" y1="742" x2="610.6" y2="742"/>
<path class="a" d="M577.9 740.1 L571.4 742 L577.9 743.9"/>
<path class="a" d="M604.1 743.9 L610.6 742 L604.1 740.1"/>
<text class="la" x="587.2" y="741.3" font-size="8.6" textLength="7.6" lengthAdjust="spacingAndGlyphs">55</text>
<line class="t" x1="551.5" y1="758" x2="610.6" y2="758"/>
<path class="a" d="M558 756.1 L551.5 758 L558 759.9"/>
<path class="a" d="M604.1 759.9 L610.6 758 L604.1 756.1"/>
<text class="la" x="577.1" y="757.3" font-size="8.6" textLength="7.6" lengthAdjust="spacingAndGlyphs">83</text>
<line class="t" x1="515.7" y1="772.3" x2="610.6" y2="772.3"/>
<path class="a" d="M522.2 770.4 L515.7 772.3 L522.2 774.2"/>
<path class="a" d="M604.1 774.2 L610.6 772.3 L604.1 770.4"/>
<text class="la" x="557.85" y="771.6" font-size="8.6" textLength="11.5" lengthAdjust="spacingAndGlyphs">133</text>
<text class="la" x="604.3" y="785.9" font-size="8.6" textLength="15" lengthAdjust="spacingAndGlyphs">W.L</text>
</g>
</svg>
</body>
</html>
